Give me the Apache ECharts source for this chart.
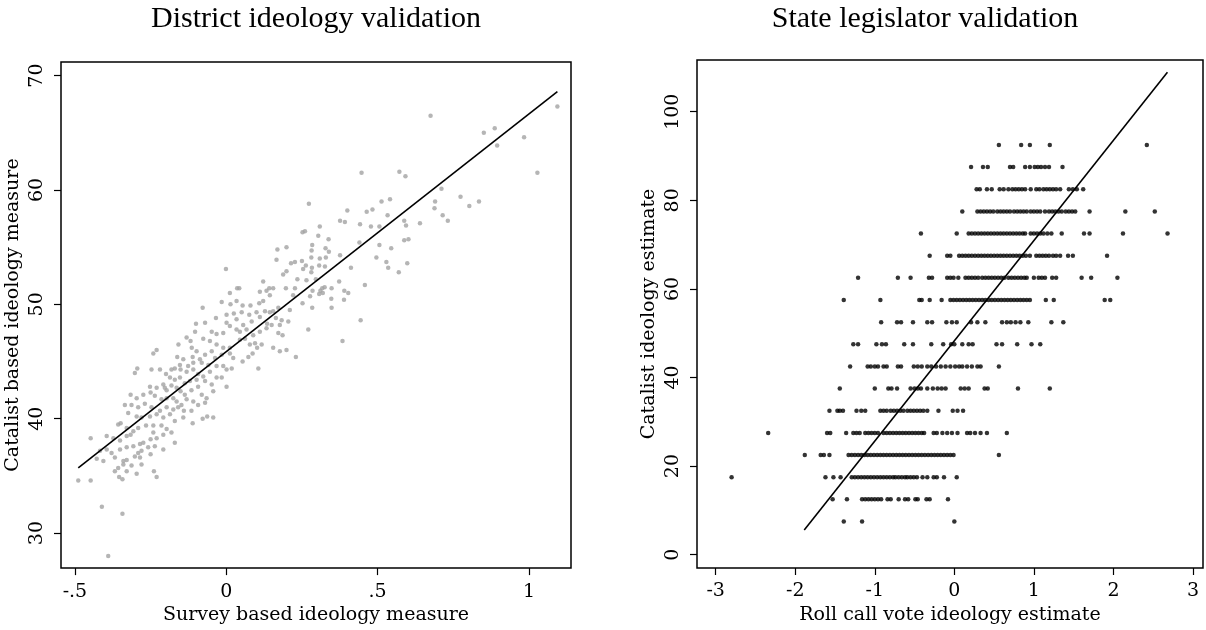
<!DOCTYPE html>
<html>
<head>
<meta charset="utf-8">
<script src="https://cdn.jsdelivr.net/npm/echarts@6.0.0/dist/echarts.min.js"></script>
<style>
  html, body { margin: 0; padding: 0; background: #fff; }
  #chart { width: 1206px; height: 630px; }
</style>
</head>
<body>
<div id="chart"></div>
<script>
// --- data: left panel (survey measure, catalist measure) ---
const districtPoints = [
  [-0.078,49.7],[-0.015,50.2],[0.014,50.0],[0.034,50.3],[0.054,49.9],[0.080,49.9],[0.109,50.1],[0.122,50.3],[0.252,50.1],[0.284,49.7],[0.348,49.7],[0.389,50.4],
  [0.001,49.1],[0.025,49.2],[0.051,49.3],[0.076,49.1],[0.100,49.3],[0.128,49.4],[0.144,49.3],[0.155,49.4],[0.172,49.7],[0.210,49.5],
  [-0.034,48.8],[0.001,48.4],[0.034,48.7],[0.056,48.2],[0.084,48.5],[0.111,48.9],[0.135,48.3],[0.164,48.8],[0.183,48.6],[0.205,48.5],[0.177,48.2],
  [-0.100,48.3],[-0.070,48.4],[-0.048,47.6],[-0.032,47.4],[-0.010,47.5],[0.012,48.1],[0.034,47.8],[0.045,47.6],[0.067,47.8],[0.089,47.3],[0.111,47.6],[0.133,47.9],[0.150,48.2],[0.172,47.5],[0.186,47.3],[0.271,47.8],
  [-0.131,47.1],[-0.118,46.8],[-0.103,47.6],[-0.076,47.0],[-0.054,46.8],[-0.032,46.5],[-0.010,46.2],[0.012,46.2],[0.045,46.9],[0.062,47.0],[0.078,46.5],[0.095,46.6],[0.117,46.5],[0.155,46.2],[0.177,45.9],[0.199,46.0],[0.230,45.4],[0.384,46.8],
  [-0.230,46.0],[-0.241,45.7],[-0.158,46.5],[-0.114,46.2],[-0.111,45.4],[-0.098,45.9],[-0.087,45.2],[-0.070,45.6],[-0.048,45.9],[-0.037,45.3],[-0.015,45.6],[0.012,45.7],[0.023,45.3],[0.054,45.0],[0.073,45.4],[0.087,45.7],[0.102,46.2],[0.106,44.4],
  [-0.162,45.4],[-0.153,44.7],[-0.142,45.2],[-0.126,44.6],[-0.109,44.9],[-0.081,44.9],[-0.059,44.7],[-0.032,44.6],[-0.010,44.6],[0.001,44.3],[0.018,44.4],
  [-0.294,44.4],[-0.302,44.0],[-0.247,44.3],[-0.219,44.3],[-0.199,43.9],[-0.181,44.3],[-0.170,44.4],[-0.151,44.3],[-0.131,44.1],[-0.109,44.3],[-0.093,43.9],[-0.076,43.7],[-0.054,44.1],[-0.032,43.6],[-0.015,43.6],
  [-0.186,43.6],[-0.170,43.4],[-0.153,43.6],[-0.137,43.1],[-0.120,43.3],[-0.098,43.4],[-0.070,43.3],[-0.048,43.0],[0.001,42.8],
  [-0.252,42.8],[-0.230,42.7],[-0.208,43.0],[-0.203,42.7],[-0.197,42.5],[-0.181,42.9],[-0.164,42.7],[-0.151,42.4],[-0.137,42.1],[-0.115,42.5],[-0.093,42.8],[-0.081,42.1],[-0.065,41.8],[-0.043,42.4],
  [-0.316,42.1],[-0.296,41.8],[-0.274,42.1],[-0.250,42.3],[-0.236,42.0],[-0.214,41.7],[-0.197,41.8],[-0.175,41.8],[-0.164,41.5],[-0.148,41.2],[-0.131,41.7],[-0.109,41.5],[-0.093,41.2],[-0.070,41.4],
  [-0.335,41.2],[-0.313,41.2],[-0.291,41.0],[-0.269,41.3],[-0.247,41.0],[-0.219,40.7],[-0.197,41.0],[-0.175,40.8],[-0.159,41.0],[-0.140,40.7],[-0.115,40.7],
  [-0.324,40.5],[-0.296,40.2],[-0.280,40.1],[-0.252,40.2],[-0.230,40.4],[-0.208,40.1],[-0.186,40.4],[-0.170,39.8],[-0.142,40.1],[-0.111,39.6],[-0.078,40.0],[-0.063,40.2],[-0.043,40.1],
  [-0.357,39.5],[-0.349,39.6],[-0.329,39.2],[-0.307,38.9],[-0.291,39.2],[-0.265,39.4],[-0.241,39.4],[-0.214,39.4],[-0.197,39.1],[-0.181,38.8],
  [-0.448,38.3],[-0.395,38.5],[-0.373,38.3],[-0.351,38.1],[-0.329,38.5],[-0.316,38.6],[-0.285,37.8],[-0.274,37.9],[-0.250,38.2],[-0.241,38.8],[-0.230,38.3],[-0.208,38.6],[-0.170,37.9],
  [-0.417,37.2],[-0.395,37.3],[-0.379,37.0],[-0.351,37.3],[-0.329,37.5],[-0.307,37.6],[-0.291,37.0],[-0.280,37.2],[-0.258,37.5],[-0.236,37.6],[-0.208,37.3],
  [-0.428,36.5],[-0.406,36.3],[-0.368,36.6],[-0.340,36.3],[-0.329,36.4],[-0.302,36.7],[-0.285,36.6],[-0.250,36.9],
  [-0.368,35.4],[-0.357,35.7],[-0.340,36.0],[-0.329,35.4],[-0.313,35.9],[-0.296,35.2],[-0.280,36.0],[-0.239,35.4],[-0.230,34.9],[-0.354,34.9],[-0.343,34.7],
  [-0.489,34.6],[-0.448,34.6],[-0.411,32.3],[-0.343,31.7],[-0.390,28.0],
  [-0.001,53.1],[0.012,51.0],[0.036,51.4],[0.043,51.4],[0.111,51.1],[0.122,52.0],[0.133,51.2],[0.142,51.4],[0.155,51.4],[0.166,53.9],[0.169,54.8],[0.199,55.0],[0.188,52.6],[0.197,51.4],[0.144,50.8],[0.199,52.9],
  [1.094,67.3],[0.675,66.5],[0.851,65.0],[0.887,65.4],[0.895,63.9],[0.984,64.6],[1.028,61.5],[0.447,61.5],[0.572,61.6],[0.592,61.2],[0.273,58.8],[0.774,59.4],[0.803,58.6],[0.835,59.0],[0.711,60.1],[0.690,59.0],[0.688,58.4],[0.715,57.8],[0.732,57.3],[0.640,57.1],
  [0.541,59.2],[0.513,59.0],[0.483,58.3],[0.464,58.1],[0.400,58.2],[0.376,57.3],[0.392,57.2],[0.442,57.0],[0.478,56.8],[0.506,56.8],[0.533,57.8],[0.588,57.3],[0.594,56.9],[0.588,55.6],[0.602,55.7],[0.598,53.6],[0.570,52.8],[0.535,53.2],[0.529,53.7],[0.545,54.9],
  [0.506,55.2],[0.496,54.1],[0.440,55.4],[0.412,53.2],[0.338,55.7],[0.339,54.6],[0.309,56.8],[0.304,56.0],[0.260,56.4],[0.252,56.3],[0.284,55.2],[0.282,54.7],[0.281,54.1],[0.263,53.4],[0.250,53.8],[0.254,53.1],[0.227,53.7],[0.214,53.6],[0.309,54.0],[0.307,53.4],
  [0.328,54.9],[0.329,54.1],[0.376,54.3],[0.326,53.3],[0.283,53.2],[0.281,52.8],[0.265,52.1],[0.235,52.2],[0.296,52.2],[0.311,51.2],[0.325,51.5],[0.319,51.0],[0.317,51.4],[0.307,50.9],[0.285,51.2],[0.227,51.4],[0.221,50.8],[0.277,50.7],[0.348,51.4],[0.373,52.0],
  [0.390,51.2],[0.403,51.0],[0.458,51.7],[0.444,48.6],[0.347,50.5]
];
const districtFit = [[-0.489, 35.7], [1.094, 68.6]];

// --- data: right panel, catalist score rows and roll call values on each ---
const catalistLevels = [92.5, 87.5, 82.5, 77.5, 72.5, 67.5, 62.5, 57.5, 52.5, 47.5, 42.5, 37.5, 32.5, 27.5, 22.5, 17.5, 12.5, 7.5];
const rollCallRows = [
  [0.56, 0.84, 0.95, 1.20, 2.42],
  [0.21, 0.36, 0.42, 0.70, 0.74, 0.89, 0.95, 1.01, 1.05, 1.09, 1.14, 1.19, 1.36],
  [0.28, 0.32, 0.41, 0.47, 0.57, 0.62, 0.68, 0.73, 0.77, 0.81, 0.85, 0.89, 0.96, 1.03, 1.07, 1.12, 1.16, 1.20, 1.24, 1.28, 1.33, 1.44, 1.49, 1.54, 1.62],
  [0.10, 0.29, 0.33, 0.37, 0.41, 0.45, 0.49, 0.54, 0.58, 0.62, 0.66, 0.70, 0.75, 0.79, 0.83, 0.87, 0.91, 0.96, 1.00, 1.04, 1.08, 1.14, 1.19, 1.23, 1.27, 1.31, 1.35, 1.40, 1.44, 1.48, 1.52, 1.70, 2.15, 2.52],
  [-0.42, 0.03, 0.18, 0.22, 0.26, 0.30, 0.34, 0.38, 0.42, 0.46, 0.50, 0.54, 0.58, 0.62, 0.66, 0.70, 0.74, 0.78, 0.82, 0.86, 0.89, 0.96, 1.00, 1.04, 1.08, 1.12, 1.17, 1.22, 1.35, 1.63, 1.70, 2.12, 2.68],
  [-0.31, -0.09, -0.05, 0.06, 0.10, 0.14, 0.18, 0.22, 0.26, 0.30, 0.34, 0.38, 0.42, 0.46, 0.50, 0.54, 0.58, 0.62, 0.66, 0.70, 0.74, 0.78, 0.82, 0.86, 0.90, 0.95, 1.03, 1.07, 1.11, 1.15, 1.19, 1.24, 1.28, 1.33, 1.43, 1.49, 1.92],
  [-1.21, -0.71, -0.55, -0.32, -0.28, -0.09, -0.05, -0.01, 0.05, 0.14, 0.18, 0.22, 0.26, 0.30, 0.35, 0.39, 0.43, 0.47, 0.51, 0.55, 0.59, 0.63, 0.68, 0.72, 0.76, 0.80, 0.84, 0.88, 0.91, 1.00, 1.06, 1.10, 1.14, 1.23, 1.28, 1.60, 1.72, 2.05],
  [-1.39, -0.93, -0.44, -0.41, -0.31, -0.16, -0.05, -0.01, 0.03, 0.07, 0.11, 0.15, 0.19, 0.23, 0.27, 0.31, 0.35, 0.39, 0.43, 0.47, 0.51, 0.55, 0.59, 0.63, 0.67, 0.71, 0.75, 0.79, 0.83, 0.87, 0.91, 0.95, 1.15, 1.25, 1.89, 1.96],
  [-0.92, -0.72, -0.67, -0.52, -0.34, -0.28, -0.10, -0.03, 0.03, 0.21, 0.29, 0.39, 0.60, 0.66, 0.71, 0.77, 0.83, 0.93, 1.22, 1.37],
  [-1.27, -1.21, -0.98, -0.91, -0.86, -0.63, -0.52, -0.29, -0.14, -0.04, 0.00, 0.10, 0.18, 0.23, 0.53, 0.60, 0.79, 0.97, 1.08],
  [-1.31, -1.09, -1.05, -1.00, -0.96, -0.89, -0.85, -0.71, -0.67, -0.51, -0.46, -0.41, -0.34, -0.29, -0.23, -0.17, -0.11, -0.05, 0.01, 0.06, 0.10, 0.16, 0.22, 0.29, 0.33, 0.56],
  [-1.44, -1.00, -0.83, -0.79, -0.72, -0.55, -0.50, -0.46, -0.42, -0.34, -0.27, -0.21, -0.16, -0.11, 0.08, 0.13, 0.18, 0.38, 0.42, 0.80, 1.20],
  [-1.57, -1.47, -1.44, -1.40, -1.23, -1.17, -1.12, -0.93, -0.89, -0.85, -0.80, -0.76, -0.72, -0.68, -0.64, -0.59, -0.55, -0.51, -0.47, -0.43, -0.39, -0.34, -0.20, -0.02, 0.04, 0.11],
  [-2.34, -1.60, -1.56, -1.36, -1.27, -1.23, -1.19, -1.12, -1.08, -1.04, -1.00, -0.96, -0.89, -0.85, -0.81, -0.77, -0.73, -0.69, -0.65, -0.61, -0.57, -0.53, -0.49, -0.45, -0.41, -0.38, -0.26, -0.22, -0.15, -0.09, -0.03, 0.04, 0.16, 0.20, 0.26, 0.33, 0.41, 0.66],
  [-1.88, -1.68, -1.64, -1.57, -1.33, -1.29, -1.25, -1.21, -1.17, -1.13, -1.09, -1.05, -1.01, -0.97, -0.93, -0.89, -0.85, -0.81, -0.77, -0.73, -0.69, -0.65, -0.61, -0.57, -0.53, -0.49, -0.45, -0.41, -0.37, -0.33, -0.29, -0.25, -0.21, -0.17, -0.13, -0.09, -0.05, -0.01, 0.56],
  [-2.80, -1.62, -1.52, -1.43, -1.29, -1.25, -1.21, -1.17, -1.13, -1.09, -1.05, -1.01, -0.97, -0.93, -0.89, -0.85, -0.81, -0.77, -0.74, -0.70, -0.66, -0.62, -0.59, -0.55, -0.51, -0.47, -0.40, -0.34, -0.26, -0.22, -0.13, 0.03],
  [-1.53, -1.35, -1.16, -1.12, -1.08, -1.04, -1.00, -0.96, -0.92, -0.84, -0.80, -0.70, -0.62, -0.58, -0.49, -0.46, -0.35, -0.31, -0.08],
  [-1.39, -1.16, 0.00]
];
const legislatorFit = [[-1.887, 5.6], [2.679, 108.9]];

// tick labels
const districtXTicks = [-0.5, 0, 0.5, 1];
const districtYTicks = [30, 40, 50, 60, 70];
const legislatorXTicks = [-3, -2, -1, 0, 1, 2, 3];
const legislatorYTicks = [0, 20, 40, 60, 80, 100];

// corr labels
const districtR = { text: 'r = .92', x: 0.306, y: 44.8 };
const legislatorR = { text: 'r = .81', x: 1.63, y: 42.4 };

const legislatorPoints = [];
catalistLevels.forEach((lvl, i) => {
    rollCallRows[i].forEach(v => legislatorPoints.push([v, lvl]));
});

const serif = 'DejaVu Serif';
const labelFont = { fontFamily: serif, fontSize: 19, color: '#000' };
const stataNum = v => String(v).replace(/^(-?)0\./, '$1.');

function xAxisCfg(grid, min, max, ticks, name, gap) {
    return {
        type: 'value', gridIndex: grid, min: min, max: max,
        axisLine: { show: false, onZero: false },
        splitLine: { show: false },
        axisTick: { show: true, length: 7, customValues: ticks, lineStyle: { color: '#000', width: 1.2 } },
        axisLabel: Object.assign({ customValues: ticks, margin: 14, formatter: stataNum }, labelFont),
        name: name, nameLocation: 'middle', nameGap: gap,
        nameTextStyle: { fontFamily: serif, fontSize: 19, color: '#000' }
    };
}
function yAxisCfg(grid, min, max, ticks, name, gap) {
    return {
        type: 'value', gridIndex: grid, min: min, max: max,
        axisLine: { show: false, onZero: false },
        splitLine: { show: false },
        axisTick: { show: true, length: 7, customValues: ticks, lineStyle: { color: '#000', width: 1.2 } },
        axisLabel: Object.assign({ customValues: ticks, margin: 14, rotate: 90, formatter: stataNum }, labelFont),
        name: name, nameLocation: 'middle', nameGap: gap, nameRotate: 90,
        nameTextStyle: { fontFamily: serif, fontSize: 19, color: '#000' }
    };
}

const chart = echarts.init(document.getElementById('chart'));
chart.setOption({
    animation: false,
    backgroundColor: '#fff',
    graphic: [
        { type: 'text', x: 316, y: 19, style: { text: 'District ideology validation', font: '30px "Liberation Serif"', fill: '#000', align: 'center', verticalAlign: 'middle' } },
        { type: 'text', x: 925, y: 19, style: { text: 'State legislator validation', font: '30px "Liberation Serif"', fill: '#000', align: 'center', verticalAlign: 'middle' } }
    ],
    grid: [
        { left: 61, top: 62, width: 510, height: 510, show: true, borderColor: '#000', borderWidth: 1.5, backgroundColor: 'transparent' },
        { left: 697, top: 60, width: 506, height: 508, show: true, borderColor: '#000', borderWidth: 1.5, backgroundColor: 'transparent' }
    ],
    xAxis: [
        xAxisCfg(0, -0.546, 1.139, districtXTicks, 'Survey based ideology measure', 31),
        xAxisCfg(1, -3.235, 3.126, legislatorXTicks, 'Roll call vote ideology estimate', 33)
    ],
    yAxis: [
        yAxisCfg(0, 26.94, 71.19, districtYTicks, 'Catalist based ideology measure', 38),
        yAxisCfg(1, -3.0, 111.67, legislatorYTicks, 'Catalist ideology estimate', 38)
    ],
    series: [
        { type: 'scatter', xAxisIndex: 0, yAxisIndex: 0, data: districtPoints, symbolSize: 4.5, itemStyle: { color: '#a3a3a3' }, silent: true },
        { type: 'line', xAxisIndex: 0, yAxisIndex: 0, data: districtFit, symbol: 'none', lineStyle: { color: '#000', width: 1.6 }, silent: true },
        { type: 'scatter', xAxisIndex: 0, yAxisIndex: 0, data: [[districtR.x, districtR.y]], symbolSize: 1, itemStyle: { opacity: 0 },
          label: { show: true, position: 'right', distance: 0, formatter: districtR.text, fontFamily: serif, fontSize: 18, color: '#000' }, silent: true },
        { type: 'scatter', xAxisIndex: 1, yAxisIndex: 1, data: legislatorPoints, symbolSize: 4.5, itemStyle: { color: '#000' }, silent: true },
        { type: 'line', xAxisIndex: 1, yAxisIndex: 1, data: legislatorFit, symbol: 'none', lineStyle: { color: '#000', width: 1.6 }, silent: true },
        { type: 'scatter', xAxisIndex: 1, yAxisIndex: 1, data: [[legislatorR.x, legislatorR.y]], symbolSize: 1, itemStyle: { opacity: 0 },
          label: { show: true, position: 'right', distance: 0, formatter: legislatorR.text, fontFamily: serif, fontSize: 18, color: '#000' }, silent: true }
    ]
});
</script>
</body>
</html>
